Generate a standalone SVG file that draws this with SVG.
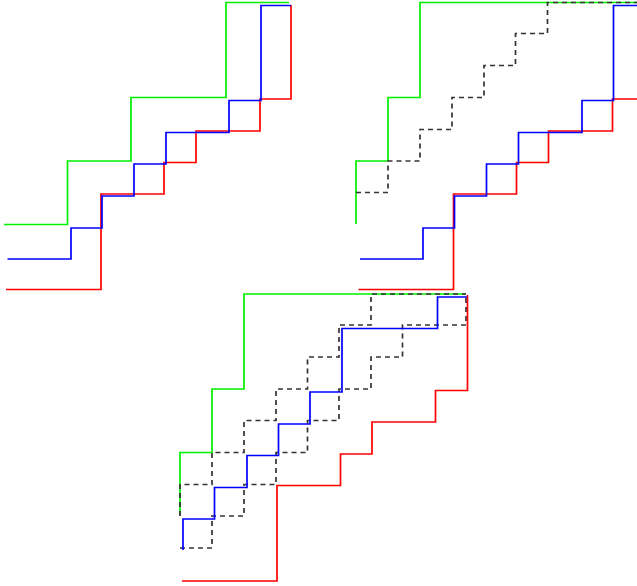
<svg xmlns="http://www.w3.org/2000/svg" width="637" height="586" viewBox="0 0 637 586">
<style>
path{fill:none;stroke-width:1.7;stroke-linejoin:miter}
.g{stroke:#00f000}
.b{stroke:#0000ff}
.r{stroke:#ff0000}
.d{stroke:#333333;stroke-dasharray:5,4}
</style>
<rect width="637" height="586" fill="#ffffff"/>
<g id="panel1">
<path class="g" d="M4,224.5 H67.5 V161 H131 V97.5 H226 V2.5 H289"/>
<path class="r" d="M6,289.5 H101 V194 H164 V162.5 H196 V131 H260 V99 H291 V5"/>
<path class="b" d="M7.5,259 H71 V228 H102 V196 H134 V164 H166 V132.5 H229 V100.5 H261 V5.5 H291"/>
</g>
<g id="panel2">
<path class="g" d="M356,224 V161 H388 V97.5 H420 V2.5 H637"/>
<path class="d" d="M356,192.5 H388 V161 H420 V129.5 H452 V97.5 H484 V65.5 H515.5 V33.5 H547.5 V2.5 H637"/>
<path class="r" d="M358.5,289.5 H453.5 V194 H516.5 V162.5 H548.5 V131 H612.5 V99 H637"/>
<path class="b" d="M360,259 H423 V228 H454.5 V196 H486.5 V164 H518.5 V132.5 H582 V100.5 H613.5 V5.5 H637"/>
</g>
<g id="panel3">
<path class="g" d="M180,515 V452.5 H212 V389 H244 V294 H466"/>
<path class="d" d="M180,516 V484.5 H212 V452.5 H244 V420.5 H276 V389 H307.5 V357 H339 V325 H371 V294 H466"/>
<path class="d" d="M180,548 H212 V516 H244 V484.5 H276 V452.5 H307.5 V420.5 H339 V389 H371 V357 H402.5 V325 H466 V294"/>
<path class="r" d="M182,581 H277 V485.5 H340.5 V454 H372 V422 H435.5 V390.5 H467.5 V295"/>
<path class="b" d="M183,550 V519 H214.5 V487.5 H247 V455.5 H278.5 V424 H310 V392 H342 V328.5 H437.5 V297 H467"/>
</g>
</svg>
